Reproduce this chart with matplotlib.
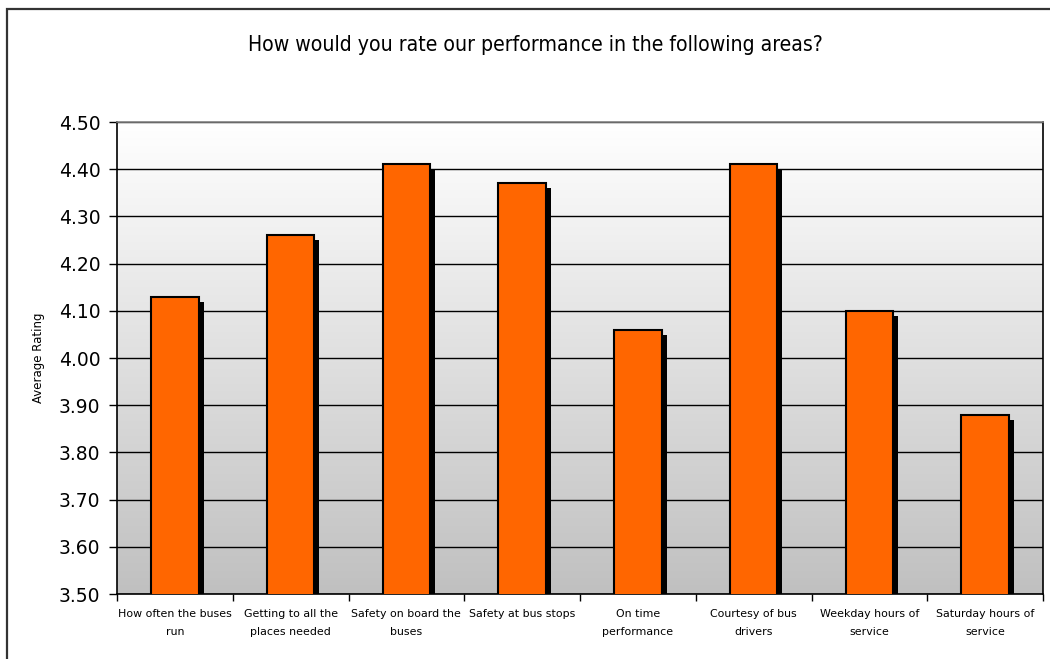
import matplotlib
matplotlib.use("Agg")
import matplotlib.pyplot as plt
import matplotlib.patheffects as pe
from matplotlib.patches import Rectangle
from matplotlib.colors import LinearSegmentedColormap
import numpy as np

categories = ["How often the buses\nrun", "Getting to all the\nplaces needed",
              "Safety on board the\nbuses", "Safety at bus stops",
              "On time\nperformance", "Courtesy of bus\ndrivers",
              "Weekday hours of\nservice", "Saturday hours of\nservice"]
ratings = [4.13, 4.26, 4.41, 4.37, 4.06, 4.41, 4.10, 3.88]
yticks = [3.50, 3.60, 3.70, 3.80, 3.90, 4.00, 4.10, 4.20, 4.30, 4.40, 4.50]

plt.rcParams['font.family'] = ['DejaVu Sans']
fig = plt.figure(figsize=(10.5, 6.59), dpi=100)
ax = fig.add_axes([117/1050, 1-594/659, (1043-117)/1050, (594-122)/659])

# gradient background
grad = np.linspace(0, 1, 256).reshape(-1, 1)
cmap = LinearSegmentedColormap.from_list("g", ["#c0c0c0", "#ffffff"])
ax.imshow(grad, aspect='auto', cmap=cmap, origin='lower',
          extent=[-0.5, len(categories)-0.5, 3.5, 4.5], zorder=0)

x = np.arange(len(categories))
bars = ax.bar(x, ratings, width=0.41, bottom=0, color="#ff6600",
              edgecolor="black", linewidth=1.5, zorder=3)
for b in bars:
    b.set_path_effects([pe.SimplePatchShadow(offset=(3.6, -3.6), shadow_rgbFace='black', alpha=1.0),
                        pe.Normal()])

ax.set_xlim(-0.5, len(categories)-0.5)
ax.set_ylim(3.5, 4.5)
ax.set_yticks(yticks)
ax.set_yticklabels([f"{v:.2f}" for v in yticks], fontsize=13.5)
ax.yaxis.grid(True, color="black", linewidth=1.0, zorder=1)
ax.set_axisbelow(True)
ax.set_xticks(x)
ax.set_xticklabels(categories, fontsize=7.9, linespacing=1.95)
ax.set_xticks(np.arange(-0.5, len(categories)), minor=True)
ax.tick_params(axis='x', which='major', length=0, pad=11)
ax.tick_params(axis='x', which='minor', length=5, width=1, direction='out')
ax.tick_params(axis='y', length=6, width=1, direction='out', pad=6)
ax.set_ylabel("Average Rating", fontsize=8.5, labelpad=10)
for s in ['left', 'bottom', 'right']:
    ax.spines[s].set_color('black')
    ax.spines[s].set_linewidth(1.2)
ax.spines['top'].set_color('#808080')
ax.spines['top'].set_linewidth(1.2)

fig.text(535/1050, 1-45/659, "How would you rate our performance in the following areas?",
         ha='center', va='center', fontsize=15.2, fontstretch='condensed')

fig.patches.append(Rectangle((7/1050, -0.05), 1.1, 1.05-9/659, transform=fig.transFigure,
                             fill=False, edgecolor='#333333', linewidth=1.6, figure=fig))

fig.savefig("out.png", dpi=100)
